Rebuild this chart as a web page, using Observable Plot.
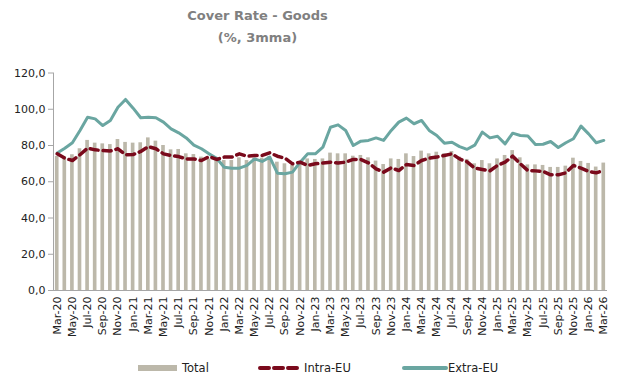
<!DOCTYPE html>
<html>
<head>
<meta charset="utf-8">
<script src="https://cdn.jsdelivr.net/npm/d3@7"></script>
<script src="https://cdn.jsdelivr.net/npm/@observablehq/plot@0.6"></script>
<style>
  body { margin: 0; background: #fff; font-family: "DejaVu Sans", Verdana, sans-serif; }
  #wrap { position: relative; width: 619px; height: 379px; }
  #title { position: absolute; left: 0; top: 5px; width: 515px; text-align: center; color: #808080; font-weight: bold; font-size: 13px; line-height: 22px; }
  #chart { position: absolute; left: 0; top: 52px; }
  #legend { position: absolute; left: 0; top: 356px; }
</style>
</head>
<body>
<div id="wrap">
  <div id="title">Cover Rate - Goods<br>(%, 3mma)</div>
  <div id="chart"></div>
  <svg id="legend" width="619" height="23"></svg>
</div>
<script>
const months = [
  "Mar-20","Apr-20","May-20","Jun-20","Jul-20","Aug-20","Sep-20","Oct-20","Nov-20","Dec-20",
  "Jan-21","Feb-21","Mar-21","Apr-21","May-21","Jun-21","Jul-21","Aug-21","Sep-21","Oct-21","Nov-21","Dec-21",
  "Jan-22","Feb-22","Mar-22","Apr-22","May-22","Jun-22","Jul-22","Aug-22","Sep-22","Oct-22","Nov-22","Dec-22",
  "Jan-23","Feb-23","Mar-23","Apr-23","May-23","Jun-23","Jul-23","Aug-23","Sep-23","Oct-23","Nov-23","Dec-23",
  "Jan-24","Feb-24","Mar-24","Apr-24","May-24","Jun-24","Jul-24","Aug-24","Sep-24","Oct-24","Nov-24","Dec-24",
  "Jan-25","Feb-25","Mar-25","Apr-25","May-25","Jun-25","Jul-25","Aug-25","Sep-25","Oct-25","Nov-25","Dec-25",
  "Jan-26","Feb-26","Mar-26"
];
const total = [
  74,73.6,74.9,78.2,82.8,81.3,80.9,80.5,83.3,81.7,
  81.3,81.5,84.2,82.4,80.0,77.6,77.8,75.4,75.0,73.6,
  72.5,72.6,71.7,71.7,73.2,71.7,73.0,73.0,73.9,70.8,
  69.9,69.0,70.8,72.6,72.3,72.6,75.8,75.4,75.4,74.1,
  74.5,73.2,71.4,69.5,72.6,72.3,75.4,73.9,76.9,75.4,
  76.3,75.4,76.7,73.6,72.3,69.9,71.7,69.9,72.6,74.5,
  77.2,73.2,69.3,69.3,69.0,67.9,67.9,68.6,73.0,71.2,
  70.1,68.1,70.3
];
const intraEU = [
  75.4,73.0,71.7,74.9,78.5,77.6,77.2,77.0,78.2,74.9,
  75.0,76.7,79.4,78.2,75.4,74.5,73.9,72.6,72.6,71.7,
  73.9,72.3,73.6,73.6,75.4,74.1,74.5,74.5,76.0,74.1,
  73.0,69.9,70.8,69.0,69.9,70.3,70.8,70.4,70.8,72.3,
  72.3,70.4,67.1,65.3,67.7,66.2,69.5,69.0,71.7,73.0,
  73.6,74.5,75.4,72.6,71.0,67.5,66.8,66.0,69.0,70.8,
  74.1,69.9,66.2,66.0,65.7,63.8,63.8,64.9,69.0,67.5,
  65.7,64.9,66.2
];
const extraEU = [
  75.8,78.5,81.5,88.3,95.6,94.7,91.0,93.8,101.1,105.4,
  100.6,95.3,95.6,95.3,92.9,89.2,87.0,84.2,80.2,78.2,
  75.4,73.0,68.0,67.5,67.5,69.0,72.6,71.2,73.6,64.7,
  64.4,65.3,70.8,75.4,75.4,79.1,90.1,91.4,88.3,80.0,
  82.4,82.8,84.2,82.8,88.3,92.9,95.1,92.0,93.8,88.3,
  85.5,81.3,81.8,79.4,77.9,80.2,87.4,84.2,85.1,80.9,
  86.8,85.5,85.3,80.6,80.7,82.2,78.9,81.5,83.7,90.7,
  86.4,81.5,82.8
];
const yTicks = [0,20,40,60,80,100,120];
const seriesNames = ["Total","Intra-EU","Extra-EU"];

const colBar = "#bcb8aa", colIntra = "#7a0a1c", colExtra = "#6aa6a1";

const data = months.map((m,i)=>({month:m, total:total[i], intra:intraEU[i], extra:extraEU[i]}));

const chart = Plot.plot({
  width: 619, height: 300,
  marginLeft: 53, marginRight: 12, marginTop: 20.5, marginBottom: 62,
  style: {fontFamily: "DejaVu Sans, Verdana, sans-serif", fontSize: "11px", color: "#222", background: "#fff"},
  x: {type: "band", domain: months, paddingInner: 0.52, paddingOuter: 0.25, label: null},
  y: {domain: [0,120], label: null},
  marks: [
    Plot.barY(data, {x: "month", y: "total", fill: colBar}),
    Plot.ruleY([0], {stroke: "#a6a6a6", strokeWidth: 1}),
    Plot.frame({anchor: "left", stroke: "#a6a6a6"}),
    Plot.axisY({ticks: yTicks, tickSize: 5, tickPadding: 3, stroke: "#a6a6a6", tickFormat: d => d.toFixed(1).replace(".", ","), fill: "#222"}),
    Plot.axisX({ticks: months.filter((d,i)=>i%2===0), tickSize: 0, tickPadding: 6, tickRotate: -90, fill: "#222"}),
    Plot.lineY(data, {x: "month", y: "extra", stroke: colExtra, strokeWidth: 3, strokeLinejoin: "round"}),
    Plot.lineY(data, {x: "month", y: "intra", stroke: colIntra, strokeWidth: 3.5, strokeDasharray: "8,5", strokeLinejoin: "round"})
  ]
});
document.getElementById("chart").appendChild(chart);

// legend
const lg = d3.select("#legend");
const items = [
  {name: seriesNames[0], x: 138, type: "bar"},
  {name: seriesNames[1], x: 260, type: "dash"},
  {name: seriesNames[2], x: 404, type: "line"}
];
items.forEach(it => {
  if (it.type === "bar") {
    lg.append("rect").attr("x", it.x).attr("y", 9).attr("width", 39).attr("height", 6).attr("fill", colBar);
  } else if (it.type === "dash") {
    lg.append("line").attr("x1", it.x).attr("x2", it.x + 40).attr("y1", 12).attr("y2", 12)
      .attr("stroke", colIntra).attr("stroke-width", 4).attr("stroke-dasharray", "9,5").attr("stroke-linecap", "round");
  } else {
    lg.append("line").attr("x1", it.x).attr("x2", it.x + 42).attr("y1", 12).attr("y2", 12)
      .attr("stroke", colExtra).attr("stroke-width", 4).attr("stroke-linecap", "round");
  }
  lg.append("text").attr("x", it.x + (it.type === "bar" ? 44 : 44)).attr("y", 16)
    .attr("font-family", "DejaVu Sans, Verdana, sans-serif").attr("font-size", "11.5px").attr("fill", "#222").text(it.name);
});
</script>
</body>
</html>
